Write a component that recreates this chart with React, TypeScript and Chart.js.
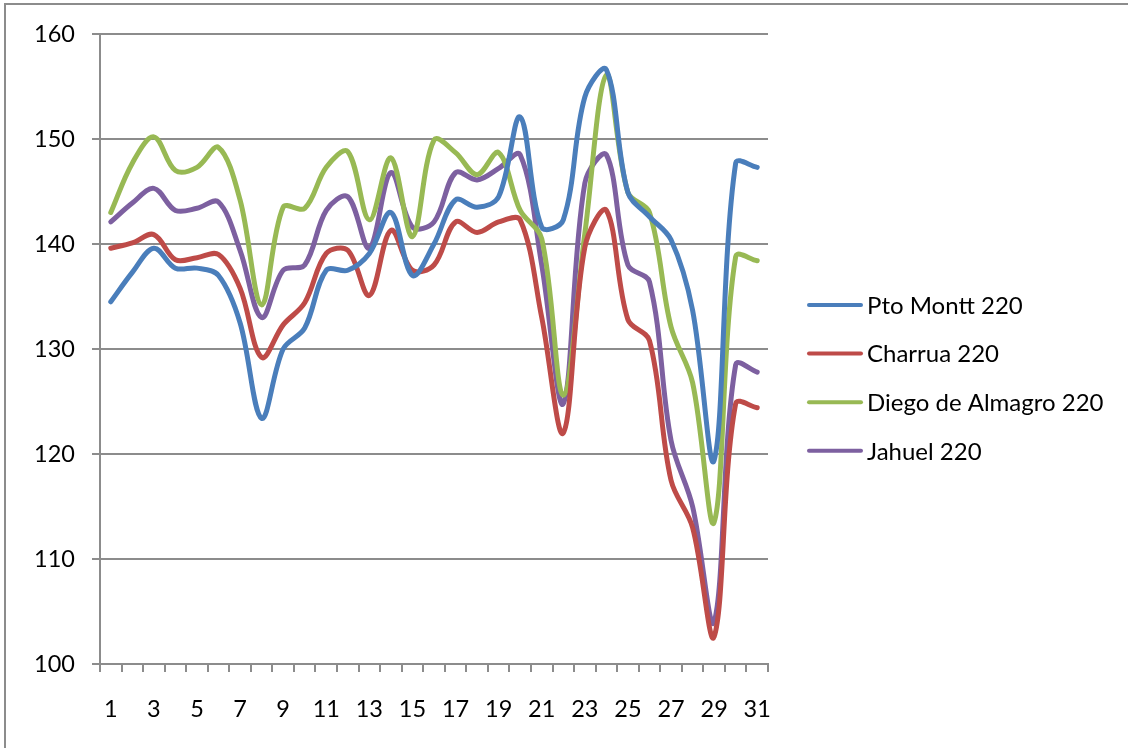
import React, { useEffect, useRef } from "react";
import { Chart, registerables } from "chart.js";

Chart.register(...registerables);

const days = [
  "1", "2", "3", "4", "5", "6", "7", "8", "9", "10",
  "11", "12", "13", "14", "15", "16", "17", "18", "19", "20",
  "21", "22", "23", "24", "25", "26", "27", "28", "29", "30", "31",
];

const ptoMontt = [
  134.5, 137.3, 139.6, 137.7, 137.7, 137.0, 132.5, 123.4, 130.0, 132.0,
  137.5, 137.5, 139.1, 143.0, 137.0, 140.0, 144.2, 143.5, 144.5, 152.1,
  141.6, 142.3, 154.0, 156.6, 144.9, 142.6, 140.4, 133.7, 119.4, 147.7, 147.3,
];

const charrua = [
  139.6, 140.1, 140.9, 138.5, 138.7, 139.0, 135.8, 129.2, 132.3, 134.4,
  139.1, 139.4, 135.1, 141.3, 137.5, 138.0, 142.1, 141.1, 142.1, 142.3,
  133.0, 122.0, 139.7, 143.2, 132.8, 130.8, 117.5, 113.0, 102.6, 124.8, 124.4,
];

const diegoDeAlmagro = [
  143.0, 147.7, 150.2, 147.0, 147.3, 149.2, 144.2, 134.2, 143.5, 143.4,
  147.3, 148.8, 142.3, 148.2, 140.7, 149.9, 148.7, 146.6, 148.7, 143.2,
  140.5, 125.6, 141.0, 156.1, 144.9, 143.0, 132.1, 126.8, 113.5, 138.8, 138.4,
];

const jahuel = [
  142.1, 143.9, 145.3, 143.2, 143.4, 144.0, 139.4, 133.0, 137.5, 138.0,
  143.2, 144.5, 139.6, 146.8, 141.6, 142.1, 146.8, 146.1, 147.2, 148.5,
  138.0, 124.8, 145.8, 148.5, 138.0, 136.4, 121.3, 115.0, 104.0, 128.5, 127.8,
];

const seriesNames = ["Pto Montt 220", "Charrua 220", "Diego de Almagro 220", "Jahuel 220"];
const seriesColors = ["#4A7EBB", "#BE4B48", "#98B954", "#7D60A0"];

const FONT = "Lato, 'Open Sans', sans-serif";
const GRID = "#8c8c8c";

const framePlugin = {
  id: "frame",
  beforeDraw(chart: any) {
    const ctx = chart.ctx;
    ctx.save();
    ctx.fillStyle = "#ffffff";
    ctx.fillRect(0, 0, chart.width, chart.height);
    ctx.strokeStyle = GRID;
    ctx.lineWidth = 2;
    ctx.strokeRect(5, 4, chart.width + 40, chart.height + 40);
    ctx.restore();
  },
  afterDraw(chart: any) {
    const ctx = chart.ctx;
    ctx.save();
    ctx.font = `24px ${FONT}`;
    ctx.textBaseline = "middle";
    ctx.textAlign = "left";
    const startY = 305;
    const step = 48.6;
    chart.data.datasets.forEach((ds: any, i: number) => {
      const y = startY + i * step;
      ctx.strokeStyle = ds.borderColor;
      ctx.lineWidth = 4;
      ctx.lineCap = "round";
      ctx.beginPath();
      ctx.moveTo(809, y);
      ctx.lineTo(861, y);
      ctx.stroke();
      ctx.fillStyle = "#000000";
      ctx.fillText(ds.label, 867, y + 1);
    });
    ctx.restore();
  },
};

export default function App() {
  const canvasRef = useRef<HTMLCanvasElement | null>(null);

  useEffect(() => {
    if (!canvasRef.current) return;
    const allSeries = [ptoMontt, charrua, diegoDeAlmagro, jahuel];
    const chart = new Chart(canvasRef.current, {
      type: "line",
      data: {
        labels: days,
        datasets: allSeries.map((values, i) => ({
          label: seriesNames[i],
          data: values,
          borderColor: seriesColors[i],
          backgroundColor: seriesColors[i],
          borderWidth: 5,
          pointRadius: 0,
          pointHoverRadius: 0,
          tension: 0.35,
          fill: false,
          borderCapStyle: "round",
          borderJoinStyle: "round",
        })),
      },
      options: {
        responsive: false,
        animation: false,
        events: [],
        layout: { padding: { left: 0, top: 34, right: 360, bottom: 0 } },
        plugins: {
          legend: { display: false },
          tooltip: { enabled: false },
          title: { display: false },
        },
        scales: {
          x: {
            type: "category",
            offset: true,
            afterFit(scale: any) {
              scale.height = 84;
            },
            grid: {
              offset: true,
              drawOnChartArea: false,
              drawTicks: true,
              tickLength: 8,
              color: GRID,
              lineWidth: 2,
            },
            border: { display: true, color: GRID, width: 2 },
            ticks: {
              autoSkip: false,
              maxRotation: 0,
              minRotation: 0,
              padding: 23,
              color: "#000000",
              font: { family: FONT, size: 23.5 },
              callback: (_v: any, index: number) => (index % 2 === 0 ? days[index] : ""),
            },
          },
          y: {
            min: 100,
            max: 160,
            afterFit(scale: any) {
              scale.width = 100;
            },
            grid: {
              color: GRID,
              lineWidth: 2,
              drawTicks: true,
              tickLength: 8,
            },
            border: { display: true, color: GRID, width: 2 },
            ticks: {
              stepSize: 10,
              padding: 17,
              color: "#000000",
              font: { family: FONT, size: 23.5 },
            },
          },
        },
      },
      plugins: [framePlugin],
    });
    return () => chart.destroy();
  }, []);

  return (
    <div style={{ position: "absolute", left: 0, top: 0, width: 1128, height: 748, background: "#fff" }}>
      <canvas ref={canvasRef} width={1128} height={748} style={{ display: "block" }} />
    </div>
  );
}
